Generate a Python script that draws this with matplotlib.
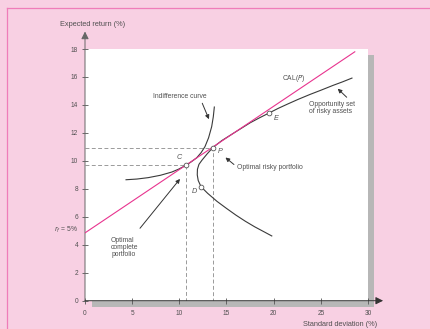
import matplotlib
matplotlib.use("Agg")
import matplotlib.pyplot as plt
from matplotlib.lines import Line2D
from matplotlib.patches import Rectangle

# Capital allocation line (rf = 5%)
cal_sigma = [0, 28.6]
cal_return = [4.85, 17.8]

# Opportunity set of risky assets
opp_sigma = [19.8, 19.0, 18.0, 17.0, 16.0, 15.0, 14.0, 13.0, 12.3, 12.0, 11.9,
             11.92, 12.08, 12.4, 12.95, 13.55, 14.5, 15.7, 16.6, 17.5, 18.5,
             19.5, 20.5, 21.5, 22.6, 23.85, 25.0, 26.3, 27.3, 28.3]
opp_return = [4.63, 4.92, 5.28, 5.68, 6.12, 6.6, 7.1, 7.68, 8.15, 8.6, 9.0,
              9.4, 9.75, 10.05, 10.5, 10.95, 11.45, 11.96, 12.34, 12.72, 13.08,
              13.42, 13.76, 14.07, 14.4, 14.75, 15.05, 15.4, 15.65, 15.92]

# Indifference curve
ind_sigma = [4.35, 5.5, 6.7, 8.0, 9.2, 9.9, 10.75, 11.3, 11.84, 12.3, 12.72,
             13.1, 13.43, 13.6, 13.71]
ind_return = [8.65, 8.7, 8.8, 8.97, 9.2, 9.4, 9.7, 9.95, 10.22, 10.58, 11.02,
              11.65, 12.45, 13.15, 13.85]

# Labelled portfolios
point_names = ['C', 'P', 'D', 'E']
point_sigma = [10.75, 13.55, 12.3, 19.5]
point_return = [9.7, 10.95, 8.15, 13.42]

x_ticks = [0, 5, 10, 15, 20, 25, 30]
y_ticks = [0, 2, 4, 6, 8, 10, 12, 14, 16, 18]

W, H = 431, 329
pink_bg = '#f8d0e3'
pink_line = '#e8348f'
ink = '#3a3a3a'
txt = '#505050'
font = 'Liberation Sans'

fig = plt.figure(figsize=(W / 100, H / 100), dpi=100, facecolor=pink_bg)
ax = fig.add_axes([85 / W, 1 - 300.7 / H, 283 / W, 251.7 / H])
ax.set_facecolor('white')
ax.set_xlim(0, 30)
ax.set_ylim(0, 18)

# pink frame of the page
fig.add_artist(Line2D([7 / W, 1.01], [1 - 8 / H, 1 - 8 / H], transform=fig.transFigure,
                      color='#ef7db9', lw=0.9))
fig.add_artist(Line2D([7 / W, 7 / W], [-0.01, 1 - 8 / H], transform=fig.transFigure,
                      color='#ef7db9', lw=0.9))

# gray drop shadow of the white panel
ax.add_patch(Rectangle((30, -0.45), 0.64, 18.02, color='#b7b7b7', clip_on=False, zorder=0.5, lw=0))
ax.add_patch(Rectangle((0.74, -0.45), 29.9, 0.45, color='#b7b7b7', clip_on=False, zorder=0.5, lw=0))

for s in ax.spines.values():
    s.set_visible(False)

# axes with arrow heads
ax.annotate('', xy=(0, 19.25), xytext=(0, 0), annotation_clip=False,
            arrowprops=dict(arrowstyle='-|>', color='#666', lw=0.7, mutation_scale=11,
                            shrinkA=0, shrinkB=0))
ax.annotate('', xy=(31.6, 0), xytext=(0, 0), annotation_clip=False,
            arrowprops=dict(arrowstyle='-|>', color='#333', lw=0.7, mutation_scale=11,
                            shrinkA=0, shrinkB=0))

ax.set_xticks(x_ticks)
ax.set_yticks(y_ticks)
ax.tick_params(direction='inout', length=5, width=0.6, color='#555',
               labelsize=4.7, labelcolor=txt)
ax.tick_params(axis='y', pad=2.5)
ax.tick_params(axis='x', pad=4)
for lab in ax.get_xticklabels() + ax.get_yticklabels():
    lab.set_family(font)

# dashed guides for C and P
dash = dict(color='#9a9a9a', lw=0.7, ls=(0, (4, 2.5)), zorder=1)
for i in (0, 1):
    ax.plot([0, point_sigma[i], point_sigma[i]], [point_return[i], point_return[i], 0], **dash)

ax.plot(ind_sigma, ind_return, color=ink, lw=0.8, zorder=2)
ax.plot(opp_sigma, opp_return, color=ink, lw=0.8, zorder=2)
ax.plot(cal_sigma, cal_return, color=pink_line, lw=0.8, zorder=3)
ax.plot(point_sigma, point_return, 'o', ms=3.4, mfc='white', mec='#555', mew=0.6, zorder=4)

# point letters
letter_pos = [(9.96, 10.21), (14.31, 10.66), (11.59, 7.8), (20.25, 13.05)]
for name, (lx, ly) in zip(point_names, letter_pos):
    ax.text(lx, ly, name, fontsize=5.2, style='italic', color=txt, family=font,
            ha='center', va='center')

tk = dict(fontsize=4.9, color=txt, family=font)
ax.text(10.02, 14.59, 'Indifference curve', ha='center', va='center', **tk)
ax.text(22.16, 15.86, 'CAL($P$)', ha='center', va='center', **tk)
ax.text(23.71, 13.75, 'Opportunity set\nof risky assets', ha='left', va='center',
        linespacing=1.0, **tk)
ax.text(16.14, 9.51, 'Optimal risky portfolio', ha='left', va='center', **tk)
ax.text(2.76, 3.8, 'Optimal\ncomplete\nportfolio', ha='left', va='center',
        linespacing=1.0, **tk)
ax.text(-0.75, 5.06, '$r_f$ = 5%', ha='right', va='center', clip_on=False, **tk)

ax.text(0.82, 19.77, 'Expected return (%)', ha='center', va='center', clip_on=False,
        fontsize=5.3, color=txt, family=font)
ax.text(27.0, -1.67, 'Standard deviation (%)', ha='center', va='center', clip_on=False,
        fontsize=5.3, color=txt, family=font)

# pointer arrows
arrows = [((12.43, 14.12), (13.14, 12.98)),
          ((27.74, 14.55), (26.79, 15.16)),
          ((15.79, 9.74), (14.89, 10.24)),
          ((5.83, 5.18), (10.07, 8.71))]
for tail, head in arrows:
    ax.annotate('', xy=head, xytext=tail,
                arrowprops=dict(arrowstyle='-|>', color='#333', lw=0.7,
                                mutation_scale=6, shrinkA=0, shrinkB=0))

fig.savefig('out.png', dpi=100, facecolor=pink_bg)
